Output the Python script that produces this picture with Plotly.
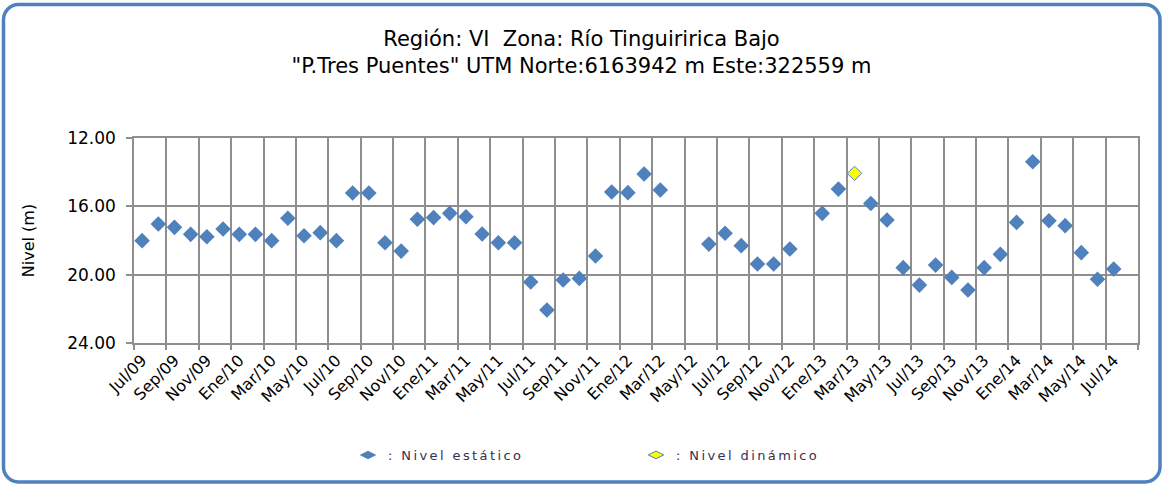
import plotly.graph_objects as go

# Spanish month abbreviations used on the category axis
MESES = ["Ene", "Feb", "Mar", "Abr", "May", "Jun", "Jul", "Ago", "Sep", "Oct", "Nov", "Dic"]

# Monthly categories from Jul/09 through Ago/14
meses = []
m, a = 7, 2009
for _ in range(62):
    meses.append(f"{MESES[m - 1]}/{a % 100:02d}")
    m += 1
    if m > 12:
        m, a = 1, a + 1

# Static water level (m), one value per month (None = no measurement)
nivel_estatico = [
    18.01, 17.03, 17.23, 17.64, 17.78, 17.33, 17.64, 17.64, 18.01, 16.70,
    17.72, 17.54, 18.01, 15.22, 15.22, 18.13, 18.62, 16.76, 16.66, 16.41,
    16.61, 17.62, 18.13, 18.13, 20.43, 22.07, 20.31, 20.22, 18.91, 15.16,
    15.20, 14.11, 15.04, None, None, 18.21, 17.58, 18.30, 19.38, 19.38,
    18.50, None, 16.41, 14.99, None, 15.83, 16.80, 19.59, 20.61, 19.44,
    20.16, 20.90, 19.59, 18.81, 16.94, 13.39, 16.84, 17.13, 18.71, 20.27,
    19.67, None,
]

# Dynamic water level measurements (m)
meses_dinamico = ["Mar/13"]
nivel_dinamico = [14.07]

# Y axis ticks
y_ticks = [12, 16, 20, 24]

AZUL = "#4F81BD"
GRIS = "#8E8E8E"
W, H = 1163, 485
L, R, T, B = 134, 1138, 138, 343  # plot area in pixels


def px_x(x):
    return (x - L) / (R - L)


def px_y(y):
    return (B - y) / (B - T)


idx = list(range(len(meses)))
x_din = [meses.index(mm) for mm in meses_dinamico]

fig = go.Figure()
fig.add_trace(go.Scatter(
    x=idx, y=nivel_estatico, mode="markers", showlegend=False,
    marker=dict(symbol="diamond", size=12, color=AZUL, line=dict(width=0)),
    hoverinfo="skip",
))
fig.add_trace(go.Scatter(
    x=x_din, y=nivel_dinamico, mode="markers", showlegend=False,
    marker=dict(symbol="diamond", size=11, color="#FFFF00", line=dict(width=1, color=AZUL)),
    hoverinfo="skip",
))
# legend entries
fig.add_trace(go.Scatter(
    x=[None], y=[None], mode="markers", name=": Nivel estático",
    marker=dict(symbol="diamond-wide", size=12, color=AZUL, line=dict(width=0)),
))
fig.add_trace(go.Scatter(
    x=[None], y=[None], mode="markers", name=": Nivel dinámico",
    marker=dict(symbol="diamond-wide", size=11, color="#FFFF00", line=dict(width=1, color=AZUL)),
))

# rounded frame around the whole chart
x0, x1, y0, y1, r = 3.5, 1160, 4.5, 482, 15
k = 0.5523 * r


def P(x, y):
    return f"{px_x(x):.6f},{px_y(y):.6f}"


path = (
    f"M {P(x0 + r, y0)} L {P(x1 - r, y0)} "
    f"C {P(x1 - r + k, y0)} {P(x1, y0 + r - k)} {P(x1, y0 + r)} "
    f"L {P(x1, y1 - r)} "
    f"C {P(x1, y1 - r + k)} {P(x1 - r + k, y1)} {P(x1 - r, y1)} "
    f"L {P(x0 + r, y1)} "
    f"C {P(x0 + r - k, y1)} {P(x0, y1 - r + k)} {P(x0, y1 - r)} "
    f"L {P(x0, y0 + r)} "
    f"C {P(x0, y0 + r - k)} {P(x0 + r - k, y0)} {P(x0 + r, y0)} Z"
)
fig.add_shape(type="path", path=path, xref="paper", yref="paper",
              line=dict(color=AZUL, width=3.5), fillcolor="rgba(0,0,0,0)", layer="above")

fuente = "DejaVu Sans"
fig.update_layout(
    width=W, height=H,
    margin=dict(l=L, r=W - R, t=T, b=H - B, autoexpand=False),
    paper_bgcolor="white", plot_bgcolor="white",
    title=dict(
        text="Región: VI \u00a0Zona: Río Tinguiririca Bajo<br>\"P.Tres Puentes\" UTM Norte:6163942 m Este:322559 m",
        x=0.5, xref="container", xanchor="center",
        y=1 - 46 / H, yref="container", yanchor="top",
        font=dict(family=fuente, size=21, color="#000000"),
    ),
    xaxis=dict(
        range=[-0.5, len(meses) - 0.5],
        tickmode="array", tickvals=idx[0:61:2], ticktext=meses[0:61:2],
        tickangle=-45, ticks="", showgrid=False, zeroline=False,
        showline=True, linecolor=GRIS, linewidth=1.5, mirror=True,
        tickfont=dict(family=fuente, size=16, color="#000000"),
        automargin=False,
        minor=dict(
            tickmode="array", tickvals=[i - 0.5 for i in range(0, len(meses) + 1, 2)],
            showgrid=True, gridcolor=GRIS, gridwidth=1.5,
            ticks="outside", ticklen=5, tickcolor=GRIS, tickwidth=1.5,
        ),
    ),
    yaxis=dict(
        range=[24, 12], tickmode="array", tickvals=y_ticks, tickformat=".2f",
        showgrid=True, gridcolor=GRIS, gridwidth=1.5, zeroline=False,
        ticks="outside", ticklen=6, tickcolor=GRIS, tickwidth=1.5,
        ticklabelstandoff=7,
        showline=True, linecolor=GRIS, linewidth=1.5, mirror=True,
        tickfont=dict(family=fuente, size=17, color="#000000"),
        title=dict(text="Nivel (m)", font=dict(family=fuente, size=16, color="#000000"), standoff=29),
        automargin=False,
    ),
    legend=dict(
        x=px_x(348), y=px_y(455), xanchor="left", yanchor="middle",
        orientation="h", bgcolor="rgba(0,0,0,0)", borderwidth=0,
        entrywidth=243, entrywidthmode="pixels",
        font=dict(family=fuente, size=13, color="#3b2d4f"),
    ),
)

# wider character spacing for the legend labels
espaciado = (
    "var st=document.createElement('style');"
    "st.textContent='.legendtext{letter-spacing:2.4px !important;}';"
    "document.head.appendChild(st);"
)

fig.write_html("out.html", post_script=espaciado)
